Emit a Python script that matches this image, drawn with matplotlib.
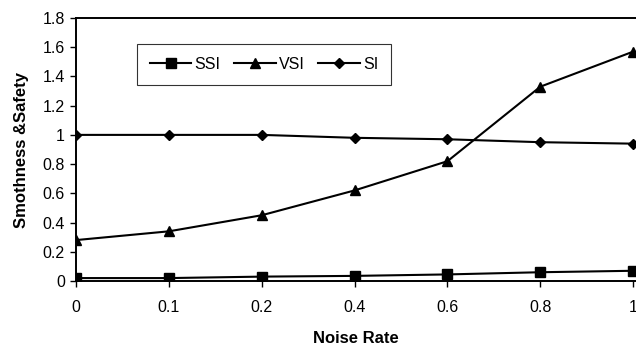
import matplotlib
matplotlib.use("Agg")
import matplotlib.pyplot as plt

plt.rcParams['font.family'] = ['Liberation Sans', 'DejaVu Sans']

noise = ['0', '0.1', '0.2', '0.4', '0.6', '0.8', '1']
ssi = [0.02, 0.02, 0.03, 0.035, 0.045, 0.06, 0.07]
vsi = [0.28, 0.34, 0.45, 0.62, 0.82, 1.33, 1.57]
si = [1.0, 1.0, 1.0, 0.98, 0.97, 0.95, 0.94]

fig = plt.figure(figsize=(6.36, 3.47), dpi=100)
ax = fig.add_axes([76/636, 1 - 281/347, 560/636, 263/347])

xs = list(range(len(noise)))
ax.plot(xs, ssi, 'k-', marker='s', ms=7, lw=1.5, label='SSI')
ax.plot(xs, vsi, 'k-', marker='^', ms=7.5, lw=1.5, label='VSI')
ax.plot(xs, si, 'k-', marker='D', ms=5.5, lw=1.5, label='SI')

ax.set_xlim(0, 6.03)
ax.set_ylim(0, 1.8)
ax.set_yticks([0, 0.2, 0.4, 0.6, 0.8, 1, 1.2, 1.4, 1.6, 1.8])
ax.set_yticklabels(['0', '0.2', '0.4', '0.6', '0.8', '1', '1.2', '1.4', '1.6', '1.8'])
ax.set_xticks(xs)
ax.set_xticklabels(noise)
ax.tick_params(labelsize=11.5, direction='out', length=4.5, width=1, color='black', pad=3.5)
ax.tick_params(axis='x', pad=9)
for s in ax.spines.values():
    s.set_linewidth(1.4)
ax.spines['right'].set_visible(False)

ax.set_xlabel('Noise Rate', fontsize=12, fontweight='bold', labelpad=12)
ax.set_ylabel('Smothness &Safety', fontsize=12, fontweight='bold', labelpad=10)

leg = ax.legend(loc='upper left', bbox_to_anchor=(61/560, 1 - 26/263), ncol=3,
                fontsize=11.5, frameon=True, fancybox=False, edgecolor='black',
                handlelength=2.6, columnspacing=0.85, handletextpad=0.2,
                borderpad=0.8, borderaxespad=0)
leg.get_frame().set_linewidth(0.8)

fig.savefig('out.png', dpi=100)
